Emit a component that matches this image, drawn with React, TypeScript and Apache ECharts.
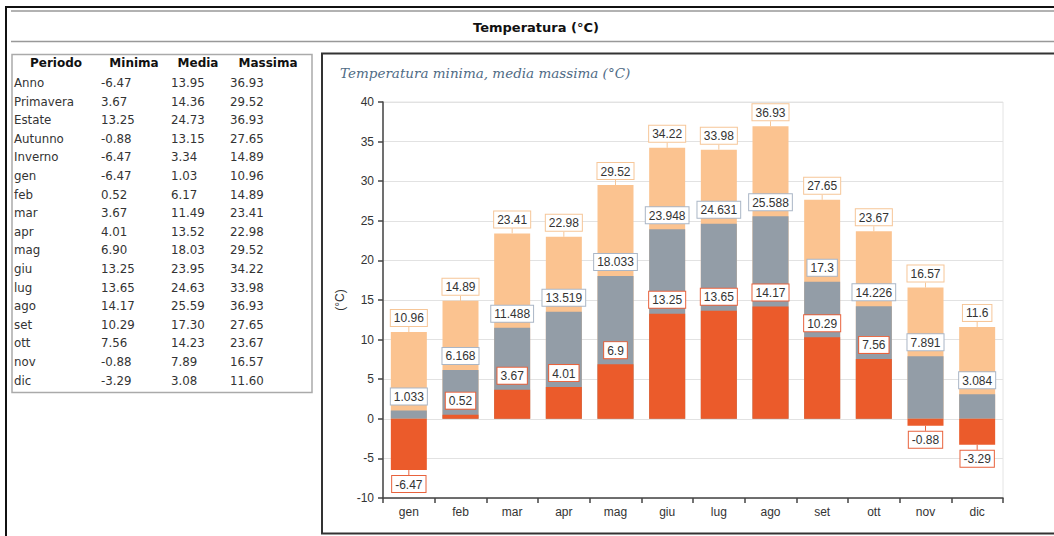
import React, { useEffect, useRef } from "react";
import * as echarts from "echarts";

// ---- Table data ----
const periods = ["Anno", "Primavera", "Estate", "Autunno", "Inverno", "gen", "feb", "mar", "apr", "mag", "giu", "lug", "ago", "set", "ott", "nov", "dic"];
const tableMin = [-6.47, 3.67, 13.25, -0.88, -6.47, -6.47, 0.52, 3.67, 4.01, 6.9, 13.25, 13.65, 14.17, 10.29, 7.56, -0.88, -3.29];
const tableMedia = [13.95, 14.36, 24.73, 13.15, 3.34, 1.03, 6.17, 11.49, 13.52, 18.03, 23.95, 24.63, 25.59, 17.3, 14.23, 7.89, 3.08];
const tableMax = [36.93, 29.52, 36.93, 27.65, 14.89, 10.96, 14.89, 23.41, 22.98, 29.52, 34.22, 33.98, 36.93, 27.65, 23.67, 16.57, 11.6];
const tableHeaders = ["Periodo", "Minima", "Media", "Massima"];

// ---- Chart data ----
const months = ["gen", "feb", "mar", "apr", "mag", "giu", "lug", "ago", "set", "ott", "nov", "dic"];
const minVals = [-6.47, 0.52, 3.67, 4.01, 6.9, 13.25, 13.65, 14.17, 10.29, 7.56, -0.88, -3.29];
const mediaVals = [1.033, 6.168, 11.488, 13.519, 18.033, 23.948, 24.631, 25.588, 17.3, 14.226, 7.891, 3.084];
const maxVals = [10.96, 14.89, 23.41, 22.98, 29.52, 34.22, 33.98, 36.93, 27.65, 23.67, 16.57, 11.6];

const pageTitle = "Temperatura (°C)";
const chartTitle = "Temperatura minima, media massima (°C)";
const yName = "(°C)";

const C_MAX = "#fbc390";
const C_MED = "#939da7";
const C_MIN = "#eb5b2b";
const B_MAX = "#f6c698";
const B_MED = "#aab6c6";
const B_MIN = "#e8623c";

function labelFor(border: string) {
  return {
    show: true,
    position: "top",
    distance: 0,
    color: "#333",
    fontFamily: "Liberation Sans, Arial, sans-serif",
    fontSize: 12,
    backgroundColor: "#fff",
    borderColor: border,
    borderWidth: 1,
    padding: [2, 3, 1, 3],
    lineHeight: 13,
  };
}

export default function App() {
  const ref = useRef<HTMLDivElement>(null);
  useEffect(() => {
    if (!ref.current) return;
    const chart = echarts.init(ref.current, undefined, { renderer: "svg" });

    const colX = [14, 101, 171, 230];
    const headX = [56, 134, 198, 268];
    const rowY0 = 83;
    const rowH = 18.6;
    const tableFont = "DejaVu Sans, Verdana, sans-serif";

    const graphics: any[] = [];
    // outer frame
    graphics.push({ type: "line", shape: { x1: 6, y1: 7, x2: 1054, y2: 7 }, style: { stroke: "#111", lineWidth: 2 }, silent: true });
    graphics.push({ type: "line", shape: { x1: 6, y1: 6, x2: 6, y2: 536 }, style: { stroke: "#111", lineWidth: 2 }, silent: true });
    graphics.push({ type: "line", shape: { x1: 11, y1: 11, x2: 1054, y2: 11 }, style: { stroke: "#999", lineWidth: 1.5 }, silent: true });
    graphics.push({ type: "line", shape: { x1: 11, y1: 41.5, x2: 1054, y2: 41.5 }, style: { stroke: "#999", lineWidth: 1.5 }, silent: true });
    graphics.push({
      type: "text",
      style: { text: pageTitle, x: 536, y: 27, align: "center", verticalAlign: "middle", fontFamily: tableFont, fontWeight: "bold", fontSize: 13, fill: "#111" },
      silent: true,
    });
    // table box
    graphics.push({ type: "rect", shape: { x: 12, y: 54.5, width: 300, height: 338 }, style: { fill: "#fff", stroke: "#aaa", lineWidth: 1.5 }, silent: true });
    tableHeaders.forEach((h, i) => {
      graphics.push({
        type: "text",
        style: { text: h, x: headX[i], y: 63, align: "center", verticalAlign: "middle", fontFamily: tableFont, fontWeight: "bold", fontSize: 12, fill: "#111" },
        silent: true,
      });
    });
    periods.forEach((p, r) => {
      const y = rowY0 + r * rowH;
      const cells = [p, tableMin[r].toFixed(2), tableMedia[r].toFixed(2), tableMax[r].toFixed(2)];
      cells.forEach((c, i) => {
        graphics.push({
          type: "text",
          style: { text: c, x: colX[i], y, align: "left", verticalAlign: "middle", fontFamily: tableFont, fontSize: 11.8, fill: "#333" },
          silent: true,
        });
      });
    });
    // chart panel
    graphics.push({ type: "rect", shape: { x: 322, y: 53.5, width: 740, height: 480 }, style: { fill: "#fff", stroke: "#333", lineWidth: 2 }, silent: true, z: -10 });
    graphics.push({
      type: "text",
      style: { text: chartTitle, x: 340, y: 73, align: "left", verticalAlign: "middle", fontFamily: "DejaVu Serif, Georgia, serif", fontStyle: "italic", fontSize: 13.5, fill: "#4f6b85" },
      silent: true,
    });

    const negLayout = (vals: number[]) => (p: any) => ({ dy: vals[p.dataIndex] < 0 ? 6 : -6 });
    const mkData = (vals: number[]) =>
      vals.map((v) => (v < 0 ? { value: v, label: { position: "bottom" } } : v));

    chart.setOption({
      animation: false,
      graphic: { elements: graphics },
      grid: { left: 383, right: 51, top: 102, bottom: 38, show: true, borderColor: "#e4e4e4", borderWidth: 1, backgroundColor: "transparent" },
      xAxis: {
        type: "category",
        data: months,
        axisLine: { onZero: false, lineStyle: { color: "#444", width: 1.5 } },
        axisTick: { show: true, length: 5, lineStyle: { color: "#444", width: 1.5 } },
        axisLabel: { color: "#333", fontSize: 12, fontFamily: "Liberation Sans, Arial, sans-serif", margin: 8 },
        splitLine: { show: false },
      },
      yAxis: {
        type: "value",
        min: -10,
        max: 40,
        interval: 5,
        name: yName,
        nameLocation: "middle",
        nameGap: 27,
        nameTextStyle: { color: "#333", fontSize: 12, fontFamily: "Liberation Sans, Arial, sans-serif" },
        axisLine: { show: true, lineStyle: { color: "#444", width: 1.5 } },
        axisTick: { show: true, length: 5, lineStyle: { color: "#444", width: 1.5 } },
        axisLabel: { color: "#333", fontSize: 12, fontFamily: "Liberation Sans, Arial, sans-serif", margin: 9 },
        splitLine: { show: true, lineStyle: { color: "#e2e2e2", width: 1 } },
      },
      series: [
        {
          name: "Massima",
          type: "bar",
          data: mkData(maxVals),
          barWidth: 36,
          barGap: "-100%",
          itemStyle: { color: C_MAX },
          label: labelFor(B_MAX),
          labelLayout: negLayout(maxVals),
          labelLine: { show: true, lineStyle: { color: B_MAX, width: 1 } },
        },
        {
          name: "Media",
          type: "bar",
          data: mkData(mediaVals),
          barWidth: 36,
          barGap: "-100%",
          itemStyle: { color: C_MED },
          label: labelFor(B_MED),
          labelLayout: negLayout(mediaVals),
          labelLine: { show: true, lineStyle: { color: B_MED, width: 1 } },
        },
        {
          name: "Minima",
          type: "bar",
          data: mkData(minVals),
          barWidth: 36,
          barGap: "-100%",
          itemStyle: { color: C_MIN },
          label: labelFor(B_MIN),
          labelLayout: negLayout(minVals),
          labelLine: { show: true, lineStyle: { color: B_MIN, width: 1 } },
        },
      ],
    });
    return () => chart.dispose();
  }, []);
  return <div ref={ref} style={{ position: "absolute", left: 0, top: 0, width: 1054, height: 536 }} />;
}
